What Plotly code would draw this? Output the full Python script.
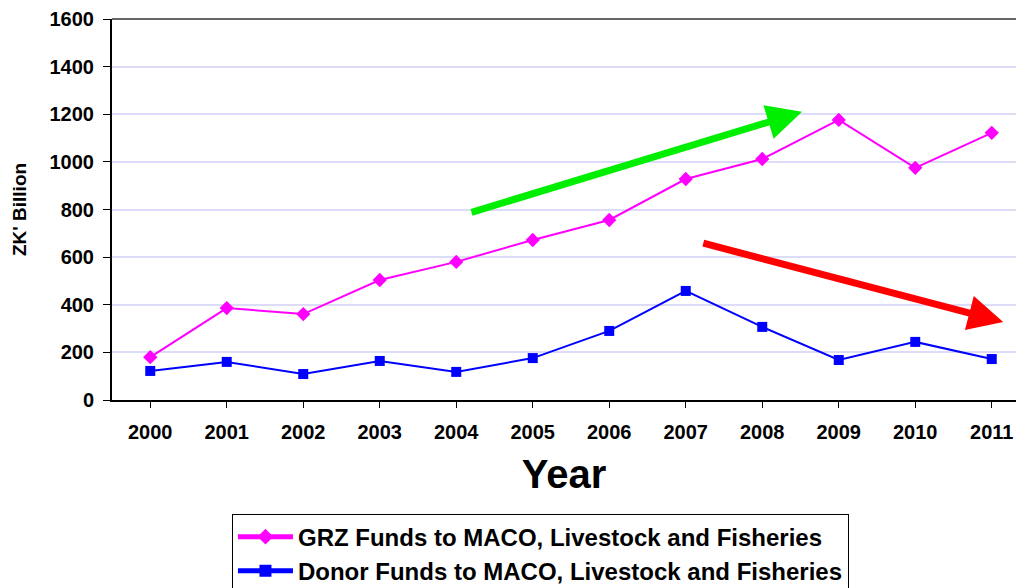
import plotly.graph_objects as go

years = ["2000", "2001", "2002", "2003", "2004", "2005", "2006", "2007", "2008", "2009", "2010", "2011"]
grz_funds = [180, 386, 361, 504, 580, 672, 756, 928, 1012, 1176, 975, 1122]
donor_funds = [122, 160, 109, 164, 118, 176, 290, 458, 307, 168, 244, 172]
y_ticks = [0, 200, 400, 600, 800, 1000, 1200, 1400, 1600]

FONT = "Liberation Sans, Arial, sans-serif"

fig = go.Figure()
fig.add_trace(go.Scatter(
    x=list(range(len(years))), y=grz_funds, mode="lines+markers",
    name="GRZ Funds to MACO, Livestock and Fisheries",
    line=dict(color="#ff00ff", width=2),
    marker=dict(symbol="diamond", size=11, color="#ff00ff"),
))
fig.add_trace(go.Scatter(
    x=list(range(len(years))), y=donor_funds, mode="lines+markers",
    name="Donor Funds to MACO, Livestock and Fisheries",
    line=dict(color="#0000ff", width=2),
    marker=dict(symbol="square", size=10, color="#0000ff"),
))

# trend arrows
fig.add_annotation(x=8.52, y=1210, ax=4.18, ay=786, xref="x", yref="y", axref="x", ayref="y",
                   text="", showarrow=True, arrowhead=2, arrowsize=1, arrowwidth=7, arrowcolor="#00ee00")
fig.add_annotation(x=11.15, y=328, ax=7.21, ay=660, xref="x", yref="y", axref="x", ayref="y",
                   text="", showarrow=True, arrowhead=2, arrowsize=1, arrowwidth=7, arrowcolor="#ff0000")

fig.update_layout(
    width=1016, height=588,
    margin=dict(l=112, r=0, t=19, b=188, autoexpand=False),
    paper_bgcolor="white", plot_bgcolor="white",
    font=dict(family=FONT, color="black"),
    showlegend=True,
    legend=dict(
        x=0.1327, y=-0.298, xanchor="left", yanchor="top",
        bordercolor="black", borderwidth=1, bgcolor="white",
        font=dict(size=24, family=FONT, weight="bold"),
        tracegroupgap=0, itemsizing="constant", itemwidth=55,
    ),
    xaxis=dict(
        tickmode="array", tickvals=list(range(len(years))), ticktext=years,
        range=[-0.5, 11.317], showgrid=False, zeroline=False, automargin=False,
        showline=True, linecolor="black", linewidth=2,
        ticks="outside", tickson="boundaries", ticklen=6, tickcolor="black",
        ticklabelstandoff=7,
        tickfont=dict(size=20, family=FONT, weight="bold"),
        title=dict(text="Year", font=dict(size=40, family=FONT, weight="bold"), standoff=18),
    ),
    yaxis=dict(
        range=[0, 1600], tickvals=y_ticks, automargin=False,
        showgrid=True, gridcolor="#dcdcf8", gridwidth=1.5, zeroline=False,
        showline=True, linecolor="black", linewidth=2, mirror=False,
        ticks="outside", ticklen=7, tickcolor="black",
        ticklabelstandoff=5,
        tickfont=dict(size=20, family=FONT, weight="bold"),
        title=dict(text="ZK' Billion", font=dict(size=19, family=FONT, weight="bold"), standoff=18),
    ),
)
# top border
fig.add_shape(type="line", xref="paper", yref="paper", x0=0, x1=1, y0=1, y1=1,
              line=dict(color="#666666", width=2))

fig.write_html("out.html", config={"displayModeBar": False},
               post_script="document.body.style.margin='0';document.body.style.overflow='hidden';")
